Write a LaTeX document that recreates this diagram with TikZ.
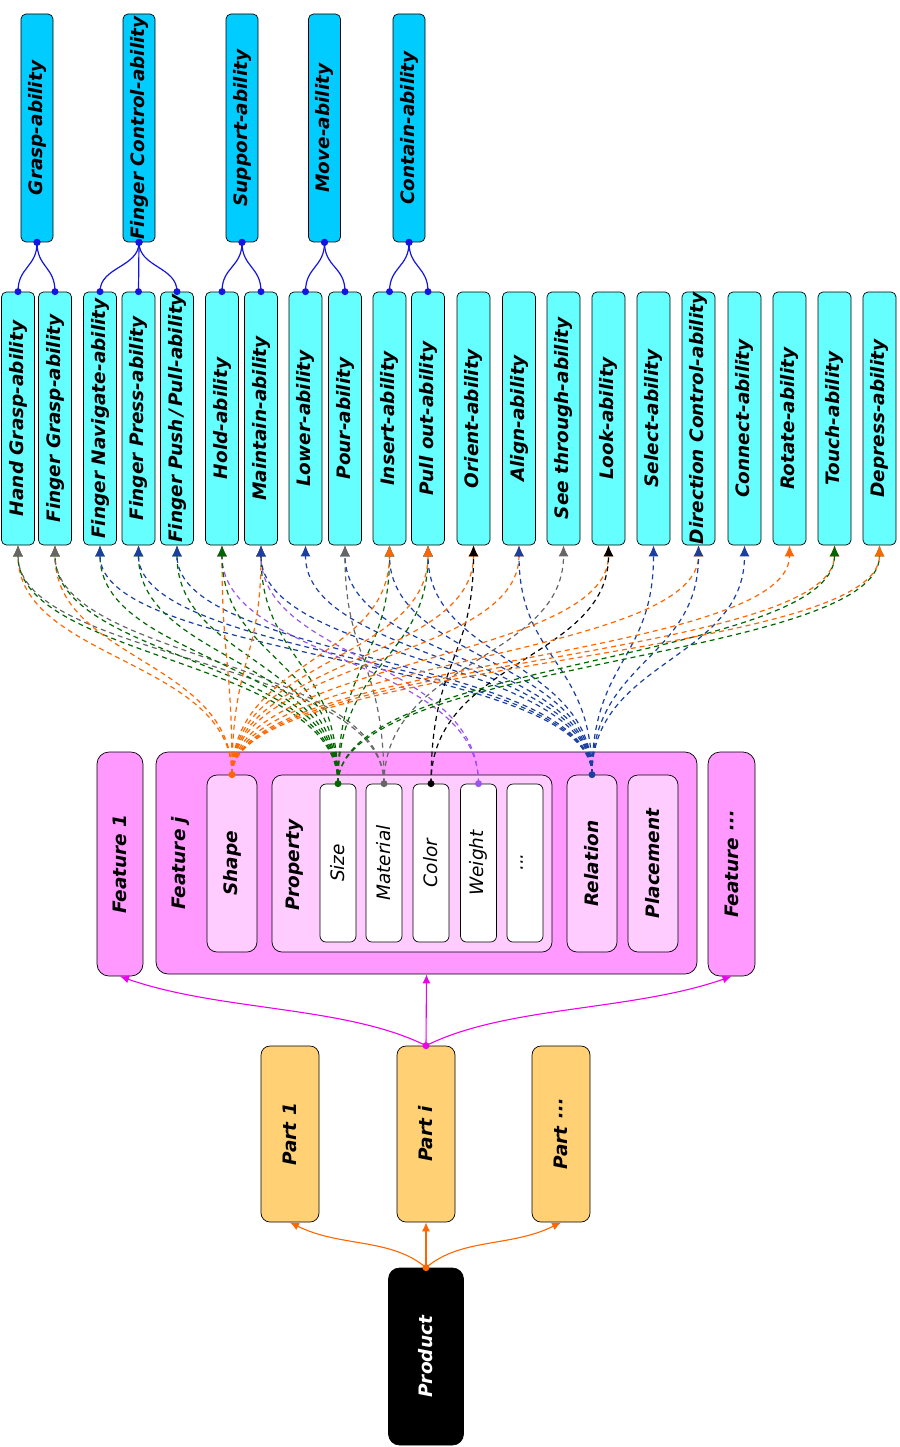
\documentclass[tikz,border=0pt]{standalone}
\usepackage{fontspec}
\setmainfont{DejaVu Sans}
\usetikzlibrary{arrows.meta,calc}
\definecolor{topc}{HTML}{00CCFF}
\definecolor{abc}{HTML}{66FFFF}
\definecolor{featc}{HTML}{FF99FF}
\definecolor{innc}{HTML}{FFCCFF}
\definecolor{partc}{HTML}{FFD174}
\definecolor{cOr}{HTML}{FF6600}
\definecolor{cGr}{HTML}{006600}
\definecolor{cGy}{HTML}{666666}
\definecolor{cBk}{HTML}{000000}
\definecolor{cPu}{HTML}{9955EE}
\definecolor{cBl}{HTML}{1A3FA0}
\definecolor{treeb}{HTML}{1515E0}
\definecolor{cMg}{HTML}{EE00EE}
\newcommand\mkbox[5]{\node[#1] (#2) at (#3) {};\node[#4,rotate=90] (#2-t) at (#2.center) {#5};}
\newcommand\dl[3]{\draw[dl,#3] (#1.north) .. controls (#1.north |- belt) and (#2.south |- belt) .. (#2.south);}
\newcommand\tr[2]{\draw[treeline] (#1.south) .. controls +(0,25) and +(0,-25) .. (#2.north);
  \fill[treeb] (#1.south) circle (3.5pt) (#2.north) circle (3.5pt);}
\begin{document}
\begin{tikzpicture}[x=1pt,y=-1pt,
  box/.style={draw=black, line width=0.7pt, rounded corners=5pt, inner sep=0pt},
  topbox/.style={box, fill=topc, minimum width=32pt, minimum height=228pt},
  abox/.style={box, fill=abc, minimum width=33pt, minimum height=253pt},
  fbox/.style={box, fill=featc, rounded corners=12pt},
  ibox/.style={box, fill=innc, rounded corners=10pt},
  wbox/.style={box, fill=white, rounded corners=6pt, minimum width=36pt, minimum height=158pt},
  pbox/.style={box, fill=partc, rounded corners=9pt, minimum width=58pt, minimum height=176pt},
  txt/.style={font=\fontsize{18.5}{20}\selectfont\bfseries\itshape, inner sep=0pt},
  itxt/.style={font=\fontsize{18.5}{20}\selectfont\itshape, inner sep=0pt},
  wtxt/.style={txt, text=white},
  treeline/.style={draw=treeb, line width=1.2pt},
  dl/.style={line width=1.2pt, dash pattern=on 5pt off 4pt, -{Latex[length=11pt,width=10pt]}},
  sol/.style={line width=1.1pt, -{Latex[length=9pt,width=8pt]}}
]
\useasboundingbox (0,0) rectangle (899,1447);
\coordinate (belt) at (0,660);
% top row
\mkbox{topbox}{grasp}{37,128}{txt}{Grasp-ability}
\mkbox{topbox}{fctl}{139,128}{txt}{Finger Control-ability}
\mkbox{topbox}{supp}{242,128}{txt}{Support-ability}
\mkbox{topbox}{move}{324.5,128}{txt}{Move-ability}
\mkbox{topbox}{cont}{409,128}{txt}{Contain-ability}
% abilities
\mkbox{abox}{hg}{18,418.5}{txt}{Hand Grasp-ability}
\mkbox{abox}{fg}{55,418.5}{txt}{Finger Grasp-ability}
\mkbox{abox}{fn}{100,418.5}{txt}{Finger Navigate-ability}
\mkbox{abox}{fp}{138.5,418.5}{txt}{Finger Press-ability}
\mkbox{abox}{fpp}{177,418.5}{txt}{Finger Push\thinspace/\thinspace Pull-ability}
\mkbox{abox}{hold}{222,418.5}{txt}{Hold-ability}
\mkbox{abox}{main}{261,418.5}{txt}{Maintain-ability}
\mkbox{abox}{low}{305.5,418.5}{txt}{Lower-ability}
\mkbox{abox}{pour}{345,418.5}{txt}{Pour-ability}
\mkbox{abox}{ins}{389.5,418.5}{txt}{Insert-ability}
\mkbox{abox}{pull}{428,418.5}{txt}{Pull out-ability}
\mkbox{abox}{ori}{473.5,418.5}{txt}{Orient-ability}
\mkbox{abox}{ali}{519,418.5}{txt}{Align-ability}
\mkbox{abox}{see}{563.5,418.5}{txt}{See through-ability}
\mkbox{abox}{look}{608.5,418.5}{txt}{Look-ability}
\mkbox{abox}{sel}{653.5,418.5}{txt}{Select-ability}
\mkbox{abox}{dir}{698.5,418.5}{txt}{Direction Control-ability}
\mkbox{abox}{con}{744.5,418.5}{txt}{Connect-ability}
\mkbox{abox}{rot}{789.5,418.5}{txt}{Rotate-ability}
\mkbox{abox}{tou}{834.5,418.5}{txt}{Touch-ability}
\mkbox{abox}{dep}{879.5,418.5}{txt}{Depress-ability}
% tree
\tr{grasp}{hg}\tr{grasp}{fg}
\tr{fctl}{fn}\tr{fctl}{fp}\tr{fctl}{fpp}
\tr{supp}{hold}\tr{supp}{main}
\tr{move}{low}\tr{move}{pour}
\tr{cont}{ins}\tr{cont}{pull}
% features
\mkbox{fbox, minimum width=46pt, minimum height=224pt}{f1}{120,864}{txt}{Feature 1}
\node[fbox, minimum width=541pt, minimum height=222pt] (fj) at (426.5,863) {};
\node[txt,rotate=90] (fj-t) at (180,863) {Feature j};
\mkbox{fbox, minimum width=47pt, minimum height=224pt}{fd}{731.5,864}{txt}{Feature ···}
\mkbox{ibox, minimum width=50pt, minimum height=177pt}{shape}{232,863.5}{txt}{Shape}
\node[ibox, minimum width=280pt, minimum height=177pt] (prop) at (412,863.5) {};
\node[txt,rotate=90] (prop-t) at (295,865) {Property};
\mkbox{wbox}{size}{338,863}{itxt}{Size}
\mkbox{wbox}{mat}{384,863}{itxt}{Material}
\mkbox{wbox}{col}{431,863}{itxt}{Color}
\mkbox{wbox}{wei}{478.5,863}{itxt}{Weight}
\mkbox{wbox}{etc}{525,863}{itxt}{···}
\mkbox{ibox, minimum width=50pt, minimum height=177pt}{rel}{592,863.5}{txt}{Relation}
\mkbox{ibox, minimum width=50pt, minimum height=177pt}{plc}{653,863.5}{txt}{Placement}
% parts and product
\mkbox{pbox}{part1}{290,1134}{txt}{Part 1}
\mkbox{pbox}{parti}{426,1134}{txt}{Part i}
\mkbox{pbox}{partd}{561,1134}{txt}{Part ···}
\mkbox{box, fill=black, rounded corners=11pt, minimum width=75pt, minimum height=177pt}{prod}{426,1356.5}{wtxt}{Product}
% dashed feature -> ability links
\dl{shape}{hg}{cOr}\dl{size}{hg}{cGr}\dl{mat}{hg}{cGy}
\dl{shape}{fg}{cOr}\dl{size}{fg}{cGr}\dl{mat}{fg}{cGy}
\dl{size}{fn}{cGr}\dl{rel}{fn}{cBl}
\dl{size}{fp}{cGr}\dl{rel}{fp}{cBl}
\dl{size}{fpp}{cGr}\dl{rel}{fpp}{cBl}
\dl{shape}{hold}{cOr}\dl{wei}{hold}{cPu}\dl{size}{hold}{cGr}
\dl{shape}{main}{cOr}\dl{size}{main}{cGr}\dl{wei}{main}{cPu}\dl{rel}{main}{cBl}
\dl{rel}{low}{cBl}
\dl{rel}{pour}{cBl}\dl{mat}{pour}{cGy}
\dl{size}{ins}{cGr}\dl{rel}{ins}{cBl}\dl{shape}{ins}{cOr}
\dl{size}{pull}{cGr}\dl{rel}{pull}{cBl}\dl{shape}{pull}{cOr}
\dl{shape}{ori}{cOr}\dl{col}{ori}{cBk}
\dl{shape}{ali}{cOr}\dl{rel}{ali}{cBl}
\dl{mat}{see}{cGy}
\dl{shape}{look}{cOr}\dl{col}{look}{cBk}
\dl{rel}{sel}{cBl}
\dl{shape}{dir}{cOr}\dl{rel}{dir}{cBl}
\dl{rel}{con}{cBl}
\dl{shape}{rot}{cOr}
\dl{shape}{tou}{cOr}\dl{size}{tou}{cGr}
\dl{size}{dep}{cGr}\dl{shape}{dep}{cOr}
\fill[cOr] (shape.north) circle (3.5pt);
\fill[cGr] (size.north) circle (3.5pt);
\fill[cGy] (mat.north) circle (3.5pt);
\fill[cBk] (col.north) circle (3.5pt);
\fill[cPu] (wei.north) circle (3.5pt);
\fill[cBl] (rel.north) circle (3.5pt);
% part -> features
\draw[sol,cMg] (parti.north) .. controls +(-80,-40) and +(100,35) .. (f1.south);
\draw[sol,cMg] (parti.north) -- (fj.south);
\draw[sol,cMg] (parti.north) .. controls +(80,-40) and +(-100,35) .. (fd.south);
\fill[cMg] (parti.north) circle (3.5pt);
% product -> parts
\draw[sol,cOr] (prod.north) .. controls +(-35,-30) and +(50,25) .. (part1.south);
\draw[sol,cOr] (prod.north) -- (parti.south);
\draw[sol,cOr] (prod.north) .. controls +(35,-30) and +(-50,25) .. (partd.south);
\fill[cOr] (prod.north) circle (3.5pt);
\end{tikzpicture}
\end{document}
